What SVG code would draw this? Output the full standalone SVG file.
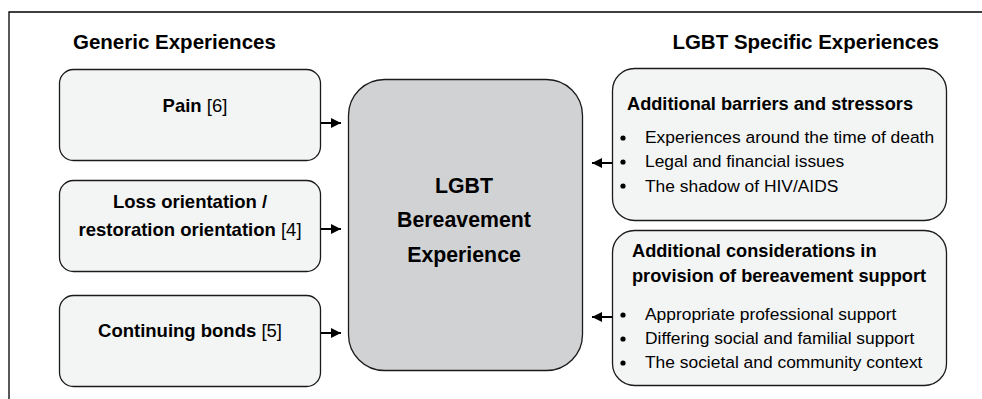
<svg xmlns="http://www.w3.org/2000/svg" width="982" height="399" viewBox="0 0 982 399">
<style>
text{font-family:"Liberation Sans",Arial,sans-serif;fill:#000}
.h{font-size:20.5px;font-weight:bold}
.bx{fill:#f3f4f4;stroke:#1a1a1a;stroke-width:1.3}
.ctr{fill:#d1d2d3;stroke:#1a1a1a;stroke-width:1.3}
.lt{font-size:18.5px;font-weight:bold}
.rg{font-weight:normal}
.rt{font-size:17.4px}
.rb{font-size:18.2px;font-weight:bold}
.cn{font-size:21.3px;font-weight:bold}
.con{stroke:#000;stroke-width:2;fill:none}
</style>
<defs>
<marker id="ah" viewBox="0 0 10 10" refX="10" refY="5" markerWidth="5.5" markerHeight="5" orient="auto" markerUnits="strokeWidth">
<path d="M0,0 L10,5 L0,10 z" fill="#000"/>
</marker>
</defs>
<rect width="982" height="399" fill="#fff"/>
<path d="M9,399 V12 H982" fill="none" stroke="#000" stroke-width="1.3"/>
<text class="h" x="73" y="49">Generic Experiences</text>
<text class="h" x="939" y="49" text-anchor="end">LGBT Specific Experiences</text>

<g id="pain">
<rect class="bx" x="59.5" y="69.5" width="261" height="91" rx="14"/>
<text class="lt" x="195" y="112" text-anchor="middle">Pain <tspan class="rg">[6]</tspan></text>
</g>
<g id="loss">
<rect class="bx" x="59.5" y="180.5" width="261" height="91" rx="14"/>
<text class="lt" x="190" y="208" text-anchor="middle">Loss orientation /</text>
<text class="lt" x="190" y="236" text-anchor="middle">restoration orientation <tspan class="rg">[4]</tspan></text>
</g>
<g id="bonds">
<rect class="bx" x="59.5" y="295.5" width="261" height="91" rx="14"/>
<text class="lt" x="190" y="337" text-anchor="middle">Continuing bonds <tspan class="rg">[5]</tspan></text>
</g>
<g id="center">
<rect class="ctr" x="348.5" y="79.5" width="234" height="291" rx="36"/>
<text class="cn" x="464" y="193" text-anchor="middle">LGBT</text>
<text class="cn" x="464" y="227" text-anchor="middle">Bereavement</text>
<text class="cn" x="464" y="262" text-anchor="middle">Experience</text>
</g>
<g id="barriers">
<rect class="bx" x="612.5" y="68.5" width="334" height="152" rx="22"/>
<text class="rb" x="627" y="110">Additional barriers and stressors</text>
<circle cx="623" cy="138" r="2.6"/>
<circle cx="623" cy="162" r="2.6"/>
<circle cx="623" cy="186" r="2.6"/>
<text class="rt" x="645" y="143">Experiences around the time of death</text>
<text class="rt" x="645" y="167">Legal and financial issues</text>
<text class="rt" x="645" y="192">The shadow of HIV/AIDS</text>
</g>
<g id="support">
<rect class="bx" x="612.5" y="230.5" width="334" height="155" rx="22"/>
<text class="rb" x="632" y="257">Additional considerations in</text>
<text class="rb" x="632" y="282">provision of bereavement support</text>
<circle cx="623" cy="315" r="2.6"/>
<circle cx="623" cy="339" r="2.6"/>
<circle cx="623" cy="363" r="2.6"/>
<text class="rt" x="645" y="320">Appropriate professional support</text>
<text class="rt" x="645" y="344">Differing social and familial support</text>
<text class="rt" x="645" y="368">The societal and community context</text>
</g>
<g id="connectors">
<line class="con" x1="321" y1="123" x2="341" y2="123" marker-end="url(#ah)"/>
<line class="con" x1="321" y1="229" x2="341" y2="229" marker-end="url(#ah)"/>
<line class="con" x1="321" y1="333" x2="341" y2="333" marker-end="url(#ah)"/>
<line class="con" x1="612" y1="163" x2="592" y2="163" marker-end="url(#ah)"/>
<line class="con" x1="612" y1="317" x2="592" y2="317" marker-end="url(#ah)"/>
</g>
</svg>
